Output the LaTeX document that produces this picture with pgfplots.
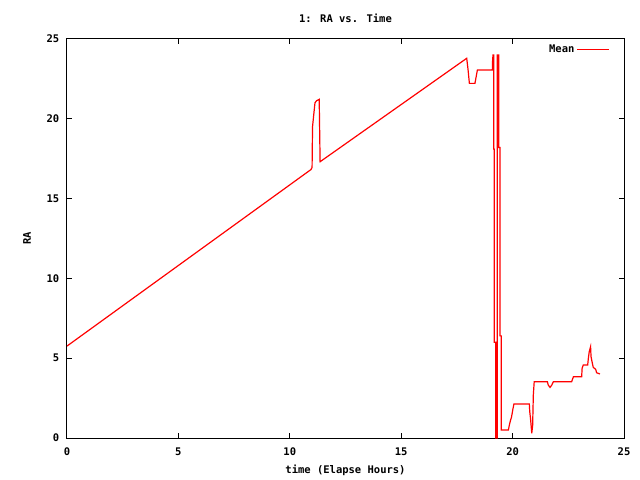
\documentclass[border=0pt]{standalone}
\usepackage{fontspec}
\setmainfont{DejaVu Sans Mono}[BoldFont={DejaVu Sans Mono Bold}]
\usepackage{pgfplots}
\pgfplotsset{compat=1.18}
\begin{document}
\fontsize{10.5bp}{12bp}\selectfont\bfseries
\begin{tikzpicture}
\begin{axis}[
  at={(0,0)}, anchor=south west,
  scale only axis,
  width=557bp, height=399bp,
  xmin=0, xmax=25, ymin=0, ymax=25,
  xtick={0,5,10,15,20,25}, ytick={0,5,10,15,20,25},
  tick align=inside,
  major tick length=5bp,
  axis line style={line width=1bp, black},
  every tick/.style={black, line width=1bp},
  /pgf/number format/assume math mode=true,
  ticklabel style={font=\fontsize{10.5bp}{12bp}\selectfont\bfseries},
  xticklabel style={yshift=-6bp},
  yticklabel style={xshift=-4bp},
  title={1: RA vs. Time},
  title style={at={(0.5,1)}, anchor=center, yshift=15bp, font=\fontsize{10.5bp}{12bp}\selectfont\bfseries},
  xlabel={time (Elapse Hours)},
  xlabel style={at={(0.5,0)}, anchor=center, yshift=-32bp, font=\fontsize{10.5bp}{12bp}\selectfont\bfseries},
  ylabel={RA},
  ylabel style={at={(axis description cs:-0.0718,0.5)}, anchor=center, font=\fontsize{10.5bp}{12bp}\selectfont\bfseries},
  legend style={draw=none, fill=none, at={(0.979,0.995)}, anchor=north east, legend cell align=right, font=\fontsize{10.5bp}{12bp}\selectfont\bfseries},
  legend plot pos=right,
  legend image post style={xscale=1.85},
]
\addplot[color=red, line width=1.2bp, mark=none] coordinates {
(0,5.76)
(10.95,16.82)
(11.00,16.95)
(11.02,19.5)
(11.10,20.6)
(11.13,21.0)
(11.20,21.13)
(11.32,21.22)
(11.36,17.31)
(17.94,23.79)
(18.00,23.09)
(18.06,22.22)
(18.31,22.22)
(18.42,23.06)
(19.09,23.06)
(19.10,23.6)
(19.12,24.0)
(19.15,24.0)
(19.15,18.1)
(19.18,18.1)
(19.18,6.0)
(19.24,6.0)
(19.24,0)
(19.31,0)
(19.31,24.0)
(19.38,24.0)
(19.38,18.2)
(19.43,18.2)
(19.43,6.4)
(19.49,6.4)
(19.49,0.5)
(19.81,0.5)
(19.86,0.85)
(19.91,1.13)
(19.95,1.3)
(20.02,1.86)
(20.06,2.13)
(20.75,2.13)
(20.77,1.65)
(20.81,1.13)
(20.86,0.29)
(20.90,0.8)
(20.93,2.69)
(20.97,3.53)
(21.56,3.53)
(21.60,3.32)
(21.68,3.17)
(21.76,3.32)
(21.83,3.53)
(22.65,3.53)
(22.73,3.84)
(23.10,3.84)
(23.12,4.37)
(23.17,4.57)
(23.37,4.57)
(23.40,4.99)
(23.44,5.41)
(23.50,5.72)
(23.52,5.1)
(23.58,4.68)
(23.62,4.43)
(23.73,4.30)
(23.77,4.09)
(23.92,4.01)
};
\addlegendentry{Mean}
\end{axis}
\pgfresetboundingbox
\path (-67bp,-42bp) rectangle (573bp,438bp);
\end{tikzpicture}
\end{document}
